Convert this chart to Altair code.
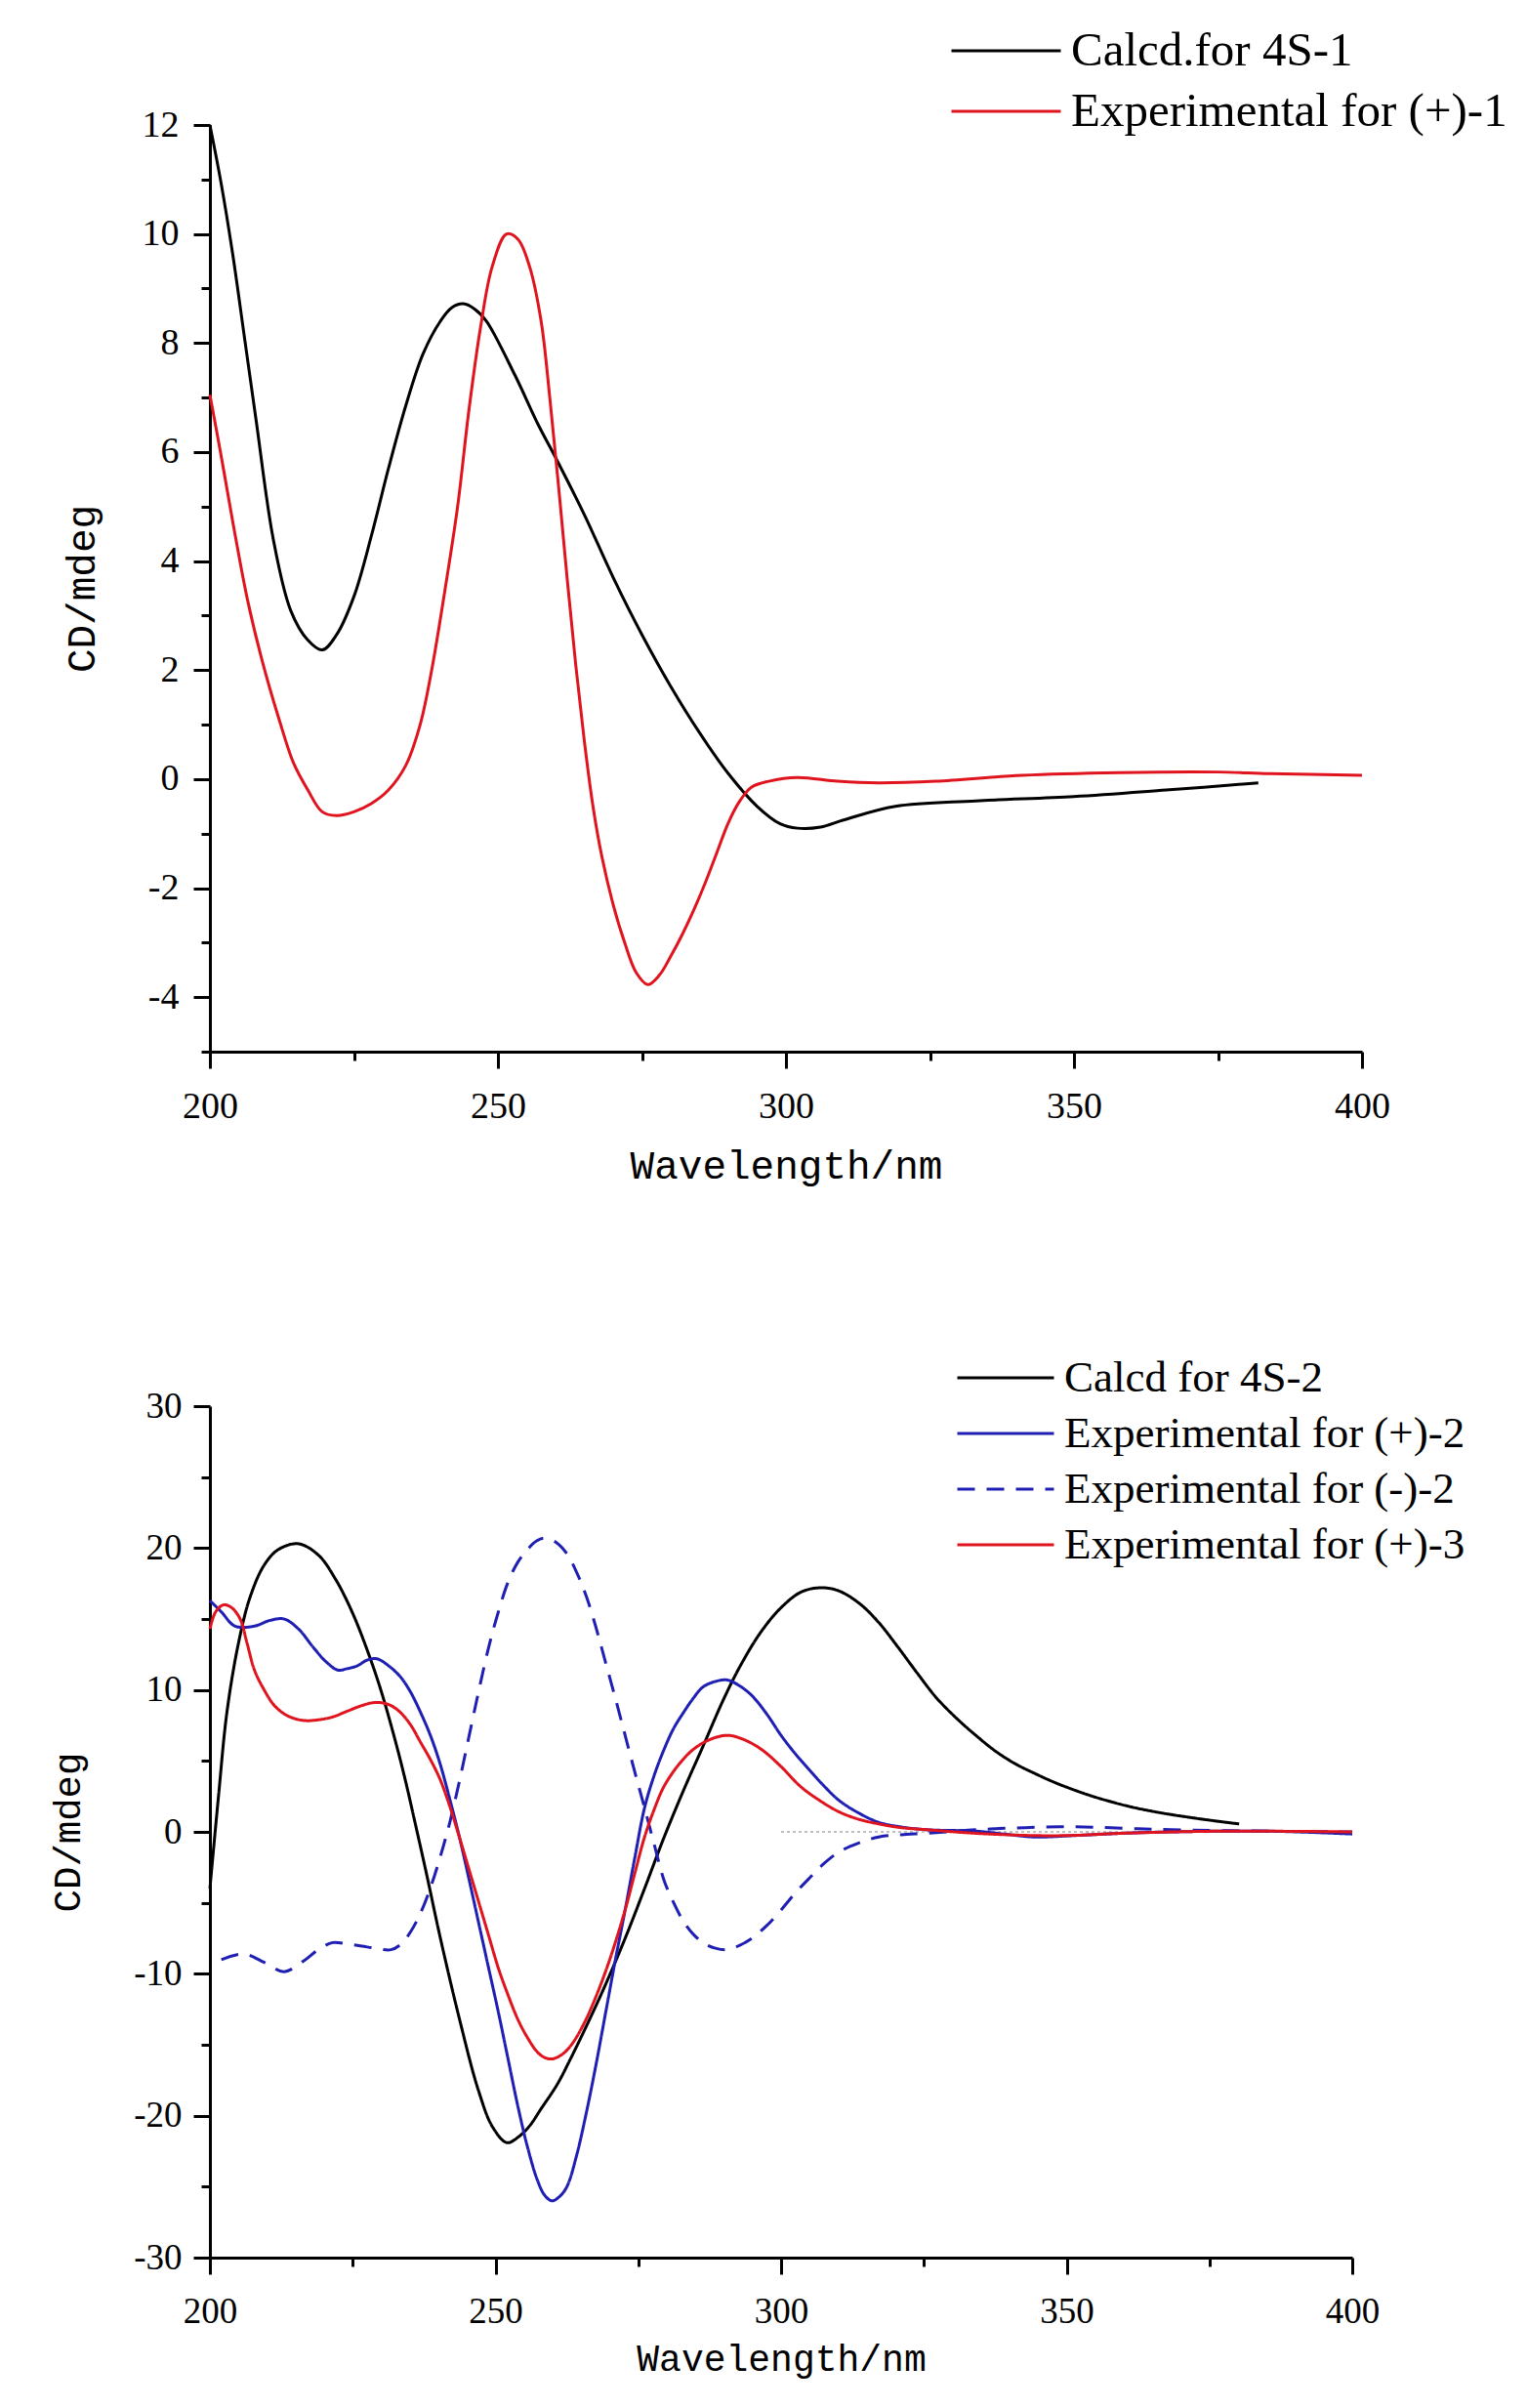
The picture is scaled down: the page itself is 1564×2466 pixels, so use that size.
import altair as alt
import pandas as pd

# ---- panel 1: compound 1 ----
calc1_nm = [200, 202, 204, 206, 208, 211, 214, 217, 219.5, 222, 225, 228, 231, 234, 237, 240,
            242, 244, 246, 248, 253, 257, 260, 265, 270, 275, 280, 285, 290, 295, 299, 302,
            306, 310, 319, 333, 350, 366, 382]
calc1_cd = [12.0, 10.9, 9.6, 8.1, 6.6, 4.4, 3.1, 2.55, 2.37, 2.65, 3.35, 4.45, 5.7, 6.85, 7.8, 8.4,
            8.65, 8.72, 8.62, 8.4, 7.4, 6.5, 5.9, 4.85, 3.7, 2.65, 1.7, 0.85, 0.1, -0.5, -0.82, -0.9,
            -0.88, -0.75, -0.5, -0.4, -0.32, -0.2, -0.07]
exp1_nm = [200, 202, 204, 206.5, 209, 212, 214.5, 217, 219.5, 222, 225, 228, 231, 234, 236.5,
           238.5, 241, 243, 245, 247, 249, 251.5, 253.5, 255.5, 257.5, 259, 260.5, 262, 263.5,
           265, 266.5, 268, 270, 272, 274, 276, 278, 280, 282, 284, 286, 288, 290, 292, 294,
           297, 302, 309, 316, 326, 341, 358, 375, 384, 400]
exp1_cd = [7.05, 5.9, 4.7, 3.3, 2.2, 1.1, 0.3, -0.2, -0.6, -0.67, -0.6, -0.45, -0.2, 0.25, 1.0,
           2.0, 3.6, 5.0, 6.8, 8.3, 9.4, 10.0, 9.9, 9.4, 8.4, 7.0, 5.4, 3.7, 2.1,
           0.7, -0.5, -1.4, -2.3, -3.0, -3.55, -3.77, -3.6, -3.25, -2.85, -2.4, -1.9, -1.35, -0.8, -0.4, -0.15,
           -0.04, 0.03, -0.04, -0.07, -0.04, 0.07, 0.12, 0.13, 0.1, 0.07]

names1 = ["Calcd.for 4S-1", "Experimental for (+)-1"]
colors1 = ["#000000", "#e0141e"]

# ---- panel 2: compounds 2 and 3 ----
calc2_nm = [200, 201.5, 203, 205, 207, 209.5, 212, 215.5, 219, 222, 225, 228, 230, 232, 234, 236,
            238, 240.3, 243.7, 247, 249.5, 252, 254, 256, 258, 260.8, 263, 265.9, 269, 272.7,
            276, 279.5, 283, 286.3, 290, 293, 296.5, 300, 303.5, 306.8, 310, 313.7, 317,
            320.5, 324, 327.3, 331, 334.1, 337.5, 341, 344.5, 347.8, 351, 354.6, 358, 361.4,
            365, 368.3, 374, 380.2]
calc2_cd = [-4.0, 2.5, 8.5, 13.3, 16.5, 18.8, 19.9, 20.3, 19.5, 17.8, 15.4, 12.3, 9.9, 7.1, 4.0, 0.5,
            -3.1, -7.4, -13.2, -18.2, -20.8, -21.9, -21.5, -20.7, -19.5, -17.8, -16.1, -13.7, -11.0, -7.5,
            -4.1, -0.4, 3.0, 6.0, 9.4, 11.8, 14.1, 15.8, 16.9, 17.2, 17.0, 16.1, 14.8,
            13.0, 11.1, 9.4, 7.9, 6.8, 5.7, 4.8, 4.1, 3.5, 3.0, 2.5, 2.1, 1.75,
            1.45, 1.22, 0.88, 0.56]
plus2_nm = [200, 202, 204.4, 207.8, 210.5, 213, 215.5, 218.1, 220.3, 222.4, 224, 225.8, 227.5,
            229.2, 231.3, 233.4, 235.2, 236.9, 238.6, 240.3, 242, 243.7, 245.4, 247.1, 248.8,
            250.5, 252.2, 253.9, 255.6, 257.3, 258.6, 259.9, 261.2, 262.5, 264.2, 265.9, 267.6,
            269.3, 271, 272.7, 274.4, 276.1, 277.8, 279.5, 281.2, 282.9, 284.6, 286.3, 288.5,
            290.6, 292.7, 294.9, 297.5, 300, 302.5, 305.1, 307.6, 310.2, 313.5, 317.1, 321,
            325.6, 334.1, 339, 344.4, 351.2, 359.7, 368.3, 385.3, 400]
plus2_cd = [16.3, 15.5, 14.5, 14.5, 14.9, 15.0, 14.3, 13.0, 12.0, 11.4, 11.5, 11.7, 12.1,
            12.2, 11.7, 10.9, 9.8, 8.4, 6.8, 4.8, 2.3, -0.4, -3.4, -6.5, -9.6,
            -12.7, -16.0, -19.3, -22.2, -24.5, -25.6, -26.0, -25.7, -25.0, -22.8, -19.8, -16.4,
            -12.7, -9.0, -5.5, -1.8, 1.7, 4.0, 5.8, 7.3, 8.4, 9.4, 10.2, 10.6,
            10.7, 10.3, 9.6, 8.3, 6.8, 5.5, 4.3, 3.2, 2.2, 1.35, 0.67, 0.35,
            0.15, 0.05, -0.15, -0.36, -0.26, -0.1, 0.0, 0.05, -0.15]
minus2_nm = [202, 206, 209.5, 213, 216.4, 219, 221.5, 224, 226.6, 229, 231.7, 233.5, 235.2,
             236.9, 238.6, 240.3, 242, 243.7, 245.4, 247.1, 248.8, 250.5, 252.2, 253.9, 255.6,
             257.2, 258.7, 260.6, 262.5, 264.2, 265.9, 267.6, 269.3, 271, 272.7, 274.4, 276.1,
             277.8, 279.5, 281.2, 282.9, 284.6, 286.3, 288.5, 290.6, 292.7, 294.9, 297.5, 300,
             302.5, 305.1, 307.6, 310.2, 313.5, 317.1, 321, 325.6, 334.1, 342.7, 351.2, 359.7,
             368.3, 385.3, 400]
minus2_cd = [-9.0, -8.6, -9.2, -9.85, -9.1, -8.3, -7.8, -7.9, -8.05, -8.2, -8.3, -7.9, -7.0,
             -5.7, -3.95, -1.8, 0.67, 3.6, 6.8, 10.0, 13.0, 15.5, 17.6, 19.0, 19.9,
             20.5, 20.7, 20.4, 19.6, 18.3, 16.6, 14.4, 11.9, 9.4, 6.8, 4.2, 1.7,
             -0.9, -3.4, -5.0, -6.3, -7.2, -7.8, -8.2, -8.3, -8.0, -7.5, -6.6, -5.5,
             -4.3, -3.2, -2.2, -1.4, -0.8, -0.36, -0.2, -0.1, 0.15, 0.3, 0.36, 0.26,
             0.15, 0.05, 0.0]
plus3_nm = [200, 201, 202.4, 203.8, 205.3, 206.5, 207.8, 209.5, 211.3, 213.5, 216.4, 219, 221.5,
            224, 226.6, 228.5, 230, 231.7, 233.4, 235.2, 236.9, 238.6, 240.3, 242, 243.7, 245.4,
            247.1, 248.8, 250.5, 252.2, 253.9, 255.6, 257.3, 258.6, 259.9, 261.6, 263.3, 265.5,
            267.6, 270, 272.7, 274.4, 276.1, 277.8, 279.5, 282, 284.6, 287.5, 290.6, 293.5,
            296.6, 300, 303.4, 306.8, 310.2, 313.5, 317.1, 321, 325.6, 334.1, 344.4, 351,
            359.7, 376.8, 400]
plus3_cd = [14.3, 15.5, 16.0, 15.8, 15.0, 13.3, 11.4, 10.0, 8.9, 8.2, 7.85, 7.9, 8.1,
            8.5, 8.9, 9.1, 9.1, 8.9, 8.4, 7.5, 6.3, 5.1, 3.7, 1.8, -0.4, -2.7,
            -5.0, -7.3, -9.6, -11.5, -13.2, -14.5, -15.5, -15.9, -16.0, -15.7, -15.0, -13.5,
            -11.6, -9.0, -5.5, -2.9, -0.36, 1.6, 3.2, 4.7, 5.8, 6.5, 6.8, 6.5,
            5.8, 4.6, 3.2, 2.2, 1.4, 0.9, 0.56, 0.3, 0.15, -0.1, -0.26, -0.25,
            -0.1, 0.05, 0.0]

names2 = ["Calcd for 4S-2", "Experimental for (+)-2", "Experimental for (-)-2", "Experimental for (+)-3"]
colors2 = ["#000000", "#1f1fb4", "#1f1fb4", "#e0141e"]
dashes2 = [[1, 0], [1, 0], [18, 12], [1, 0]]

# faint zero line seen in panel 2
baseline_nm = [300, 400]

WL = alt.Scale(domain=[200, 400], nice=False, zero=False)


def frame(names, xs, ys):
    rows = []
    for name, x, y in zip(names, xs, ys):
        rows += [{"series": name, "nm": a, "cd": b} for a, b in zip(x, y)]
    return pd.DataFrame(rows)


def x_axis(label_size, label_pad, title_size, title_pad):
    return alt.Axis(
        values=list(range(200, 401, 25)),
        labelExpr="datum.value % 50 === 0 ? '' + datum.value : ''",
        tickSize={"condition": {"test": "datum.value % 50 === 0", "value": 17}, "value": 9},
        labelFontSize=label_size, labelPadding=label_pad, labelFlush=False, labelOverlap=False,
        titleFontSize=title_size, titlePadding=title_pad,
    )


def y_axis(values, major, label_size, label_pad, title_size, title_pad):
    return alt.Axis(
        values=values,
        labelExpr=f"datum.value % {major} === 0 ? '' + datum.value : ''",
        tickSize={"condition": {"test": f"datum.value % {major} === 0", "value": 17}, "value": 9},
        labelFontSize=label_size, labelPadding=label_pad, labelFlush=False, labelOverlap=False,
        titleFontSize=title_size, titlePadding=title_pad,
    )


df1 = frame(names1, [calc1_nm, exp1_nm], [calc1_cd, exp1_cd])
legend1 = alt.Legend(title=None, orient="none", legendX=758, legendY=-101, padding=0,
                     symbolType="stroke", symbolSize=12544, symbolStrokeWidth=3,
                     labelFont="Liberation Serif", labelFontSize=49, labelLimit=0,
                     labelOffset=9, clipHeight=50, rowPadding=12)

top = alt.Chart(df1).mark_line(strokeWidth=3, interpolate="catmull-rom").encode(
    x=alt.X("nm:Q", title="Wavelength/nm", scale=WL, axis=x_axis(38, 20, 41, 22)),
    y=alt.Y("cd:Q", title="CD/mdeg", scale=alt.Scale(domain=[-5, 12], nice=False, zero=False),
            axis=y_axis(list(range(-5, 13)), 2, 38, 15, 41, 40)),
    color=alt.Color("series:N", scale=alt.Scale(domain=names1, range=colors1), legend=legend1),
).properties(width=1180, height=949)

df2 = frame(names2, [calc2_nm, plus2_nm, minus2_nm, plus3_nm], [calc2_cd, plus2_cd, minus2_cd, plus3_cd])
legend2 = alt.Legend(title=None, orient="none", legendX=764, legendY=-52, padding=0,
                     symbolType="stroke", symbolSize=9801, symbolStrokeWidth=3,
                     labelFont="Liberation Serif", labelFontSize=45, labelLimit=0,
                     labelOffset=9, clipHeight=46, rowPadding=11)

CD2 = alt.Scale(domain=[-30, 30], nice=False, zero=False)

base_df = pd.DataFrame({"nm": [baseline_nm[0]], "nm2": [baseline_nm[1]], "cd": [0]})
zero_line = alt.Chart(base_df).mark_rule(color="#c0c0c0", strokeWidth=2, strokeDash=[3, 3]).encode(
    x=alt.X("nm:Q", scale=WL), x2="nm2:Q", y=alt.Y("cd:Q", scale=CD2)
)

lines2 = alt.Chart(df2).mark_line(strokeWidth=3, interpolate="catmull-rom").encode(
    x=alt.X("nm:Q", title="Wavelength/nm", scale=WL, axis=x_axis(37, 20, 38, 12)),
    y=alt.Y("cd:Q", title="CD/mdeg", scale=CD2,
            axis=y_axis(list(range(-30, 31, 5)), 10, 37, 12, 39, 47)),
    color=alt.Color("series:N", scale=alt.Scale(domain=names2, range=colors2), legend=legend2),
    strokeDash=alt.StrokeDash("series:N", scale=alt.Scale(domain=names2, range=dashes2), legend=legend2),
)

bottom = alt.layer(zero_line, lines2).properties(width=1170, height=872)

chart = alt.vconcat(top, bottom, spacing=174).resolve_scale(
    color="independent", strokeDash="independent"
).resolve_legend(
    color="independent", strokeDash="independent"
).properties(
    padding={"left": 42, "top": 19, "right": 5, "bottom": 5}
).configure_view(stroke=None).configure_axis(
    grid=False, domainColor="black", domainWidth=3, tickColor="black", tickWidth=3,
    labelColor="black", titleColor="black", labelFont="Liberation Serif",
    titleFont="Liberation Mono", titleFontWeight="normal",
).configure_legend(labelColor="black")

chart.save("out.html", embed_options={"renderer": "svg", "actions": False})
